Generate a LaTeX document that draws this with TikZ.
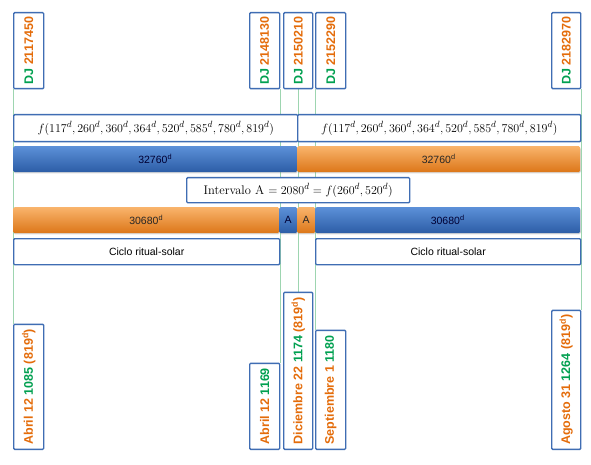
\documentclass[tikz,border=0pt]{standalone}
\usepackage{fontspec}
\newfontfamily\arialfont{Liberation Sans}
\usepackage{xcolor}
\usepackage{tikz}
\usetikzlibrary{backgrounds}
\usetikzlibrary{shadows}
\definecolor{bordeazul}{HTML}{3F6DB3}
\definecolor{naranjadj}{HTML}{E46C0A}
\definecolor{verdedj}{HTML}{00A050}
\definecolor{lineaverde}{HTML}{9DD5B0}
\definecolor{azularriba}{HTML}{5C90D8}
\definecolor{azulmedio}{HTML}{3B74C5}
\definecolor{azulabajo}{HTML}{2C5DA6}
\definecolor{naranjaarriba}{HTML}{F9B46C}
\definecolor{naranjamedio}{HTML}{F3922F}
\definecolor{naranjaabajo}{HTML}{DC7618}
\tikzset{
  cajadj/.style={draw=bordeazul, line width=1.4pt, rounded corners=1pt, fill=white, minimum width=#1, minimum height=76pt, inner sep=0pt, anchor=north west, font=\arialfont\bfseries\fontsize{12.5}{14}\selectfont},
  cajadj/.default=30pt,
  cajafecha/.style={draw=bordeazul, line width=1.4pt, rounded corners=1pt, fill=white, minimum width=30pt, minimum height=#1, inner sep=0pt, anchor=south west, font=\arialfont\bfseries\fontsize{12.5}{14}\selectfont},
  cajaform/.style={draw=bordeazul, line width=1.4pt, rounded corners=1pt, fill=white, minimum width=#1, minimum height=27pt, inner sep=0pt, anchor=north west, font=\fontsize{12.5}{14}\selectfont},
  cajaciclo/.style={draw=bordeazul, line width=1.4pt, rounded corners=1pt, fill=white, minimum width=#1, minimum height=26pt, inner sep=0pt, anchor=north west, font=\arialfont\fontsize{10.5}{12}\selectfont},
  barraazul/.style={rounded corners=1.5pt, top color=azularriba, middle color=azulmedio, bottom color=azulabajo, drop shadow={opacity=0.3, shadow xshift=0.6pt, shadow yshift=-1.2pt}, minimum width=#1, minimum height=26pt, inner sep=0pt, anchor=north west, text=black!80!blue, font=\arialfont\fontsize{10.5}{12}\selectfont},
  barranaranja/.style={rounded corners=1.5pt, top color=naranjaarriba, middle color=naranjamedio, bottom color=naranjaabajo, drop shadow={opacity=0.3, shadow xshift=0.6pt, shadow yshift=-1.2pt}, minimum width=#1, minimum height=26pt, inner sep=0pt, anchor=north west, text=black!85, font=\arialfont\fontsize{10.5}{12}\selectfont},
  vertical/.style={lineaverde, line width=0.9pt},
}
\newcommand{\etiqdj}[1]{\rotatebox{90}{\textcolor{verdedj}{DJ} \textcolor{naranjadj}{#1}}}
\newcommand{\etiqfecha}[3]{\rotatebox{90}{\textcolor{naranjadj}{#1} \textcolor{verdedj}{#2}#3}}
\newcommand{\ochodiecinueve}{ \textcolor{naranjadj}{(819\textsuperscript{d})}}
\newcommand{\formulaf}{$f(117^d,260^d,360^d,364^d,520^d,585^d,780^d,819^d)$}

\begin{document}
\begin{tikzpicture}[x=1pt, y=-1pt]
  \useasboundingbox (0,0) rectangle (591,465);
  % fechas DJ arriba
  \node[cajadj] (dj1) at (13,12) {\etiqdj{2117450}};
  \node[cajadj] (dj2) at (249,12) {\etiqdj{2148130}};
  \node[cajadj=29pt] (dj3) at (283,12) {\etiqdj{2150210}};
  \node[cajadj] (dj4) at (315,12) {\etiqdj{2152290}};
  \node[cajadj=29pt] (dj5) at (551,12) {\etiqdj{2182970}};
  % fechas abajo
  \node[cajafecha=125pt] (abr1) at (13,450) {\etiqfecha{Abril 12}{1085}{\ochodiecinueve}};
  \node[cajafecha=86pt] (abr2) at (249,450) {\etiqfecha{Abril 12}{1169}{}};
  \node[cajafecha=157pt, minimum width=29pt] (dic) at (283,450) {\etiqfecha{Diciembre 22}{1174}{\ochodiecinueve}};
  \node[cajafecha=119pt] (sep) at (315,450) {\etiqfecha{Septiembre 1}{1180}{}};
  \node[cajafecha=139pt, minimum width=29pt] (ago) at (551,450) {\etiqfecha{Agosto 31}{1264}{\ochodiecinueve}};
  % funciones
  \node[cajaform=284pt] (fizq) at (13,114) {\formulaf};
  \node[cajaform=283pt] (fder) at (297,114) {\formulaf};
  % barras 32760
  \node[barraazul=284pt] (b1) at (13,146) {32760\textsuperscript{d}};
  \node[barranaranja=283pt] (b2) at (297,146) {32760\textsuperscript{d}};
  % intervalo
  \node[cajaform=223pt, minimum height=25pt] (inter) at (186,177) {Intervalo A $=2080^d=f(260^d,520^d)$};
  % barras 30680
  \node[barranaranja=266pt] (c1) at (13,207) {30680\textsuperscript{d}};
  \node[barraazul=18pt] (a1) at (279,207) {A};
  \node[barranaranja=18pt] (a2) at (297,207) {A};
  \node[barraazul=265pt] (c2) at (315,207) {30680\textsuperscript{d}};
  % ciclos
  \node[cajaciclo=266pt] (ciclo1) at (13,238) {Ciclo ritual-solar};
  \node[cajaciclo=265pt] (ciclo2) at (315,238) {Ciclo ritual-solar};
  % lineas verticales
  \begin{scope}[on background layer]
    \draw[vertical] (dj1.south west) -- (abr1.north west);
    \draw[vertical] (dj2.south east) -- (abr2.north east);
    \draw[vertical] (dj3.south) -- (dic.north);
    \draw[vertical] (dj4.south west) -- (sep.north west);
    \draw[vertical] (dj5.south east) -- (ago.north east);
  \end{scope}
\end{tikzpicture}
\end{document}
